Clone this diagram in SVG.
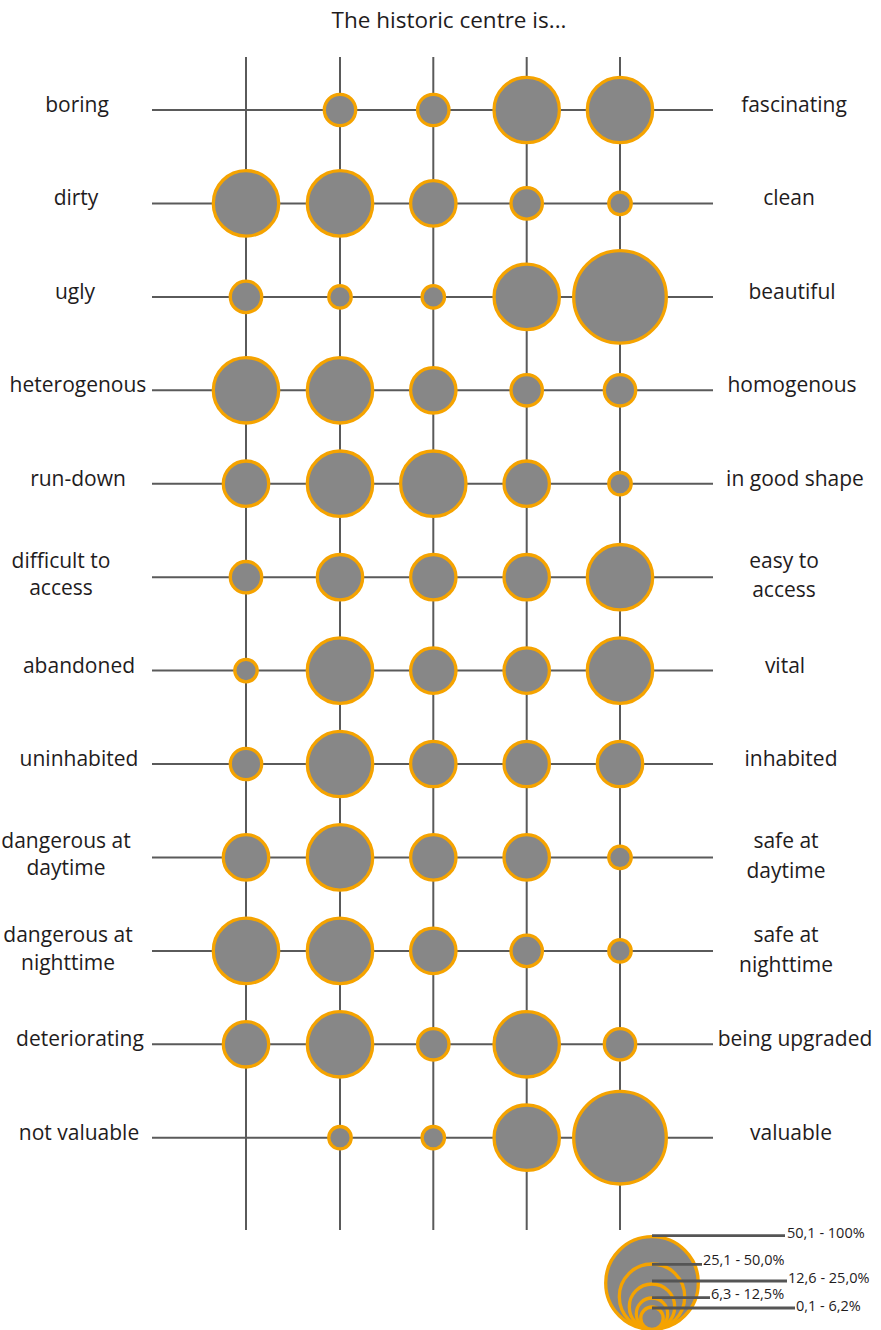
<svg xmlns="http://www.w3.org/2000/svg" width="881" height="1330" viewBox="0 0 881 1330">
  <style>
    .grid line { stroke: #5a5a5a; stroke-width: 2; }
    .dot { fill: #878787; stroke: #f5a300; stroke-width: 3.3; }
    .a { r: 46.3px; }
    .b { r: 32.7px; }
    .c { r: 22.7px; }
    .d { r: 15.7px; }
    .e { r: 11.2px; }
    text { font-family: "Open Sans", "Liberation Sans", sans-serif; fill: #1f1c1d; }
    .lbl { font-size: 21px; text-anchor: middle; }
    .title { font-size: 22.5px; text-anchor: middle; }
    .key { font-size: 14.5px; }
    .keyline { stroke: #555555; stroke-width: 2.8; }
  </style>

  <text class="title" x="449" y="28">The historic centre is...</text>

  <!-- grid: five scale columns crossed by twelve rating rows -->
  <g id="connectors" class="grid">
    <line x1="246" y1="57" x2="246" y2="1230"/>
    <line x1="340" y1="57" x2="340" y2="1230"/>
    <line x1="433.3" y1="57" x2="433.3" y2="1230"/>
    <line x1="526.7" y1="57" x2="526.7" y2="1230"/>
    <line x1="620" y1="57" x2="620" y2="1230"/>
    <line x1="152" y1="110" x2="713" y2="110"/>
    <line x1="152" y1="203.4" x2="713" y2="203.4"/>
    <line x1="152" y1="296.9" x2="713" y2="296.9"/>
    <line x1="152" y1="390.3" x2="713" y2="390.3"/>
    <line x1="152" y1="483.7" x2="713" y2="483.7"/>
    <line x1="152" y1="577.2" x2="713" y2="577.2"/>
    <line x1="152" y1="670.6" x2="713" y2="670.6"/>
    <line x1="152" y1="764" x2="713" y2="764"/>
    <line x1="152" y1="857.4" x2="713" y2="857.4"/>
    <line x1="152" y1="950.9" x2="713" y2="950.9"/>
    <line x1="152" y1="1044.3" x2="713" y2="1044.3"/>
    <line x1="152" y1="1137.7" x2="713" y2="1137.7"/>
  </g>

  <g id="row-boring">
    <text class="lbl" x="77" y="112">boring</text>
    <text class="lbl" x="794" y="112">fascinating</text>
    <circle class="dot d" cx="340" cy="110"/>
    <circle class="dot d" cx="433.3" cy="110"/>
    <circle class="dot b" cx="526.7" cy="110"/>
    <circle class="dot b" cx="620" cy="110"/>
  </g>

  <g id="row-dirty">
    <text class="lbl" x="76" y="205.4">dirty</text>
    <text class="lbl" x="789" y="205.4">clean</text>
    <circle class="dot b" cx="246" cy="203.4"/>
    <circle class="dot b" cx="340" cy="203.4"/>
    <circle class="dot c" cx="433.3" cy="203.4"/>
    <circle class="dot d" cx="526.7" cy="203.4"/>
    <circle class="dot e" cx="620" cy="203.4"/>
  </g>

  <g id="row-ugly">
    <text class="lbl" x="75" y="298.9">ugly</text>
    <text class="lbl" x="792" y="298.9">beautiful</text>
    <circle class="dot d" cx="246" cy="296.9"/>
    <circle class="dot e" cx="340" cy="296.9"/>
    <circle class="dot e" cx="433.3" cy="296.9"/>
    <circle class="dot b" cx="526.7" cy="296.9"/>
    <circle class="dot a" cx="620" cy="296.9"/>
  </g>

  <g id="row-heterogenous">
    <text class="lbl" x="78" y="392.3">heterogenous</text>
    <text class="lbl" x="792" y="392.3">homogenous</text>
    <circle class="dot b" cx="246" cy="390.3"/>
    <circle class="dot b" cx="340" cy="390.3"/>
    <circle class="dot c" cx="433.3" cy="390.3"/>
    <circle class="dot d" cx="526.7" cy="390.3"/>
    <circle class="dot d" cx="620" cy="390.3"/>
  </g>

  <g id="row-run-down">
    <text class="lbl" x="78" y="485.7">run-down</text>
    <text class="lbl" x="795" y="485.7">in good shape</text>
    <circle class="dot c" cx="246" cy="483.7"/>
    <circle class="dot b" cx="340" cy="483.7"/>
    <circle class="dot b" cx="433.3" cy="483.7"/>
    <circle class="dot c" cx="526.7" cy="483.7"/>
    <circle class="dot e" cx="620" cy="483.7"/>
  </g>

  <g id="row-access">
    <text class="lbl" x="61" y="568.2">difficult to</text>
    <text class="lbl" x="61" y="595.2">access</text>
    <text class="lbl" x="784" y="568.2">easy to</text>
    <text class="lbl" x="784" y="597.2">access</text>
    <circle class="dot d" cx="246" cy="577.2"/>
    <circle class="dot c" cx="340" cy="577.2"/>
    <circle class="dot c" cx="433.3" cy="577.2"/>
    <circle class="dot c" cx="526.7" cy="577.2"/>
    <circle class="dot b" cx="620" cy="577.2"/>
  </g>

  <g id="row-abandoned">
    <text class="lbl" x="79" y="672.6">abandoned</text>
    <text class="lbl" x="785" y="672.6">vital</text>
    <circle class="dot e" cx="246" cy="670.6"/>
    <circle class="dot b" cx="340" cy="670.6"/>
    <circle class="dot c" cx="433.3" cy="670.6"/>
    <circle class="dot c" cx="526.7" cy="670.6"/>
    <circle class="dot b" cx="620" cy="670.6"/>
  </g>

  <g id="row-uninhabited">
    <text class="lbl" x="79" y="766">uninhabited</text>
    <text class="lbl" x="791" y="766">inhabited</text>
    <circle class="dot d" cx="246" cy="764"/>
    <circle class="dot b" cx="340" cy="764"/>
    <circle class="dot c" cx="433.3" cy="764"/>
    <circle class="dot c" cx="526.7" cy="764"/>
    <circle class="dot c" cx="620" cy="764"/>
  </g>

  <g id="row-daytime">
    <text class="lbl" x="66" y="848.4">dangerous at</text>
    <text class="lbl" x="66" y="875.4">daytime</text>
    <text class="lbl" x="786" y="848.4">safe at</text>
    <text class="lbl" x="786" y="878.4">daytime</text>
    <circle class="dot c" cx="246" cy="857.4"/>
    <circle class="dot b" cx="340" cy="857.4"/>
    <circle class="dot c" cx="433.3" cy="857.4"/>
    <circle class="dot c" cx="526.7" cy="857.4"/>
    <circle class="dot e" cx="620" cy="857.4"/>
  </g>

  <g id="row-nighttime">
    <text class="lbl" x="68" y="941.9">dangerous at</text>
    <text class="lbl" x="68" y="969.9">nighttime</text>
    <text class="lbl" x="786" y="941.9">safe at</text>
    <text class="lbl" x="786" y="971.9">nighttime</text>
    <circle class="dot b" cx="246" cy="950.9"/>
    <circle class="dot b" cx="340" cy="950.9"/>
    <circle class="dot c" cx="433.3" cy="950.9"/>
    <circle class="dot d" cx="526.7" cy="950.9"/>
    <circle class="dot e" cx="620" cy="950.9"/>
  </g>

  <g id="row-deteriorating">
    <text class="lbl" x="80" y="1046.3">deteriorating</text>
    <text class="lbl" x="795" y="1046.3">being upgraded</text>
    <circle class="dot c" cx="246" cy="1044.3"/>
    <circle class="dot b" cx="340" cy="1044.3"/>
    <circle class="dot d" cx="433.3" cy="1044.3"/>
    <circle class="dot b" cx="526.7" cy="1044.3"/>
    <circle class="dot d" cx="620" cy="1044.3"/>
  </g>

  <g id="row-valuable">
    <text class="lbl" x="79" y="1139.7">not valuable</text>
    <text class="lbl" x="791" y="1139.7">valuable</text>
    <circle class="dot e" cx="340" cy="1137.7"/>
    <circle class="dot e" cx="433.3" cy="1137.7"/>
    <circle class="dot b" cx="526.7" cy="1137.7"/>
    <circle class="dot a" cx="620" cy="1137.7"/>
  </g>

  <!-- size key: nested circles sharing a bottom edge -->
  <g id="legend">
    <circle class="dot a" cx="652" cy="1283"/>
    <circle class="dot b" cx="652" cy="1296.7"/>
    <circle class="dot c" cx="652" cy="1306.7"/>
    <circle class="dot d" cx="652" cy="1313.7"/>
    <circle class="dot e" cx="652" cy="1318.2"/>
    <line class="keyline" x1="652" y1="1235.7" x2="785" y2="1235.7"/>
    <line class="keyline" x1="652" y1="1264.3" x2="702" y2="1264.3"/>
    <line class="keyline" x1="652" y1="1281" x2="787" y2="1281"/>
    <line class="keyline" x1="652" y1="1297.7" x2="710" y2="1297.7"/>
    <line class="keyline" x1="652" y1="1308" x2="795" y2="1308"/>
    <text class="key" x="787" y="1238">50,1 - 100%</text>
    <text class="key" x="703" y="1265">25,1 - 50,0%</text>
    <text class="key" x="788" y="1283">12,6 - 25,0%</text>
    <text class="key" x="711" y="1299">6,3 - 12,5%</text>
    <text class="key" x="796" y="1311">0,1 - 6,2%</text>
  </g>
</svg>
